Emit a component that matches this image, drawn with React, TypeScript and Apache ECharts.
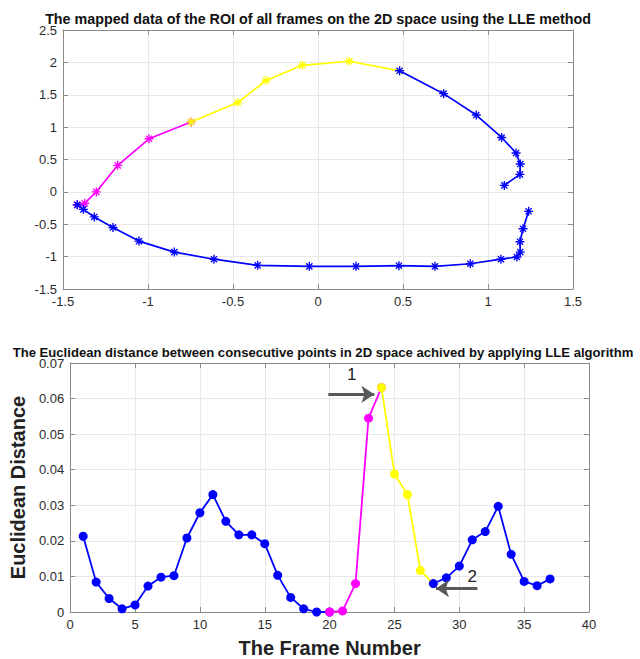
import React, { useEffect, useRef } from "react";
import * as echarts from "echarts";

// ---------- Top chart (LLE 2D mapping) ----------
const lowerBlueX = [1.239, 1.206, 1.188, 1.19, 1.17, 1.076, 0.896, 0.688, 0.476, 0.224, -0.051, -0.355, -0.612, -0.845, -1.053, -1.206, -1.316, -1.38, -1.416];
const lowerBlueY = [-0.3, -0.57, -0.77, -0.93, -1.006, -1.04, -1.11, -1.15, -1.14, -1.15, -1.15, -1.135, -1.04, -0.93, -0.76, -0.55, -0.387, -0.27, -0.2];
const magentaX = [-1.416, -1.372, -1.304, -1.178, -0.994, -0.747];
const magentaY = [-0.2, -0.175, 0.0, 0.41, 0.82, 1.08];
const yellowX = [-0.747, -0.472, -0.306, -0.092, 0.184, 0.48];
const yellowY = [1.08, 1.38, 1.72, 1.955, 2.017, 1.87];
const upperBlueX = [0.48, 0.739, 0.931, 1.08, 1.165, 1.19, 1.188, 1.096];
const upperBlueY = [1.87, 1.517, 1.187, 0.84, 0.6, 0.43, 0.27, 0.1];

// ---------- Bottom chart (Euclidean distance) ----------
const frames = [1, 2, 3, 4, 5, 6, 7, 8, 9, 10, 11, 12, 13, 14, 15, 16, 17, 18, 19, 20, 21, 22, 23, 24, 25, 26, 27, 28, 29, 30, 31, 32, 33, 34, 35, 36, 37];
const distance = [
  0.0213, 0.0084, 0.0038, 0.0009, 0.002, 0.0073, 0.0098, 0.0102, 0.0208, 0.0279,
  0.033, 0.0255, 0.0217, 0.0217, 0.0192, 0.0103, 0.0041, 0.0009, 0.0, 0.0,
  0.0003, 0.008, 0.0545, 0.0631, 0.0388, 0.033, 0.0117, 0.008, 0.0096, 0.0129,
  0.0203, 0.0226, 0.0297, 0.0162, 0.0086, 0.0074, 0.0093,
];
const segmentColors = ["#0000ff", "#ff00ff", "#ffff00", "#0000ff"];
const segmentStart = [0, 19, 23, 27];
const segmentEnd = [19, 23, 27, 36];

// annotation arrows: [x1, y1, x2, y2, label, labelX, labelY]
const arrowNotes: [number, number, number, number, string, number, number][] = [
  [19.9, 0.0612, 23.45, 0.0612, "1", 21.7, 0.0668],
  [31.4, 0.0066, 28.2, 0.0066, "2", 31.0, 0.0099],
];

const topXTicks = { min: -1.5, max: 1.5, interval: 0.5 };
const topYTicks = { min: -1.5, max: 2.5, interval: 0.5 };
const botXTicks = { min: 0, max: 40, interval: 5 };
const botYTicks = { min: 0, max: 0.07, interval: 0.01 };

const FONT = "Liberation Sans, Arial, sans-serif";
const AXIS_COLOR = "#8a8a8a";
const LABEL_COLOR = "#2b2b2b";
const GRID_COLOR = "#e8e8e8";

const ASTERISK =
  "path://M8.5 0H11.5V20H8.5Z M0 8.5H20V11.5H0Z M2.1 4.2L4.2 2.1L17.9 15.8L15.8 17.9Z M15.8 2.1L17.9 4.2L4.2 17.9L2.1 15.8Z";

const zip = (xs: number[], ys: number[]) => xs.map((x, i) => [x, ys[i]]);

function mainAxis(gridIndex: number, ticks: { min: number; max: number; interval: number }, position: string, extra: any = {}) {
  return {
    type: "value",
    gridIndex,
    position,
    min: ticks.min,
    max: ticks.max,
    interval: ticks.interval,
    axisLine: { show: true, onZero: false, lineStyle: { color: AXIS_COLOR, width: 1 } },
    axisTick: { show: true, inside: true, length: 5, lineStyle: { color: AXIS_COLOR } },
    axisLabel: { show: true, color: LABEL_COLOR, fontSize: 13, fontFamily: FONT, margin: 6 },
    splitLine: { show: true, lineStyle: { color: GRID_COLOR, width: 1 } },
    ...extra,
  };
}

function mirrorAxis(gridIndex: number, ticks: { min: number; max: number; interval: number }, position: string) {
  return {
    type: "value",
    gridIndex,
    position,
    min: ticks.min,
    max: ticks.max,
    interval: ticks.interval,
    axisLine: { show: true, onZero: false, lineStyle: { color: AXIS_COLOR, width: 1 } },
    axisTick: { show: true, inside: true, length: 5, lineStyle: { color: AXIS_COLOR } },
    axisLabel: { show: false },
    splitLine: { show: false },
  };
}

export default function App() {
  const ref = useRef<HTMLDivElement>(null);

  useEffect(() => {
    if (!ref.current) return;
    const chart = echarts.init(ref.current, undefined, { renderer: "svg" });

    const topSeries = [
      { data: zip(magentaX, magentaY), color: "#ff00ff" },
      { data: zip(yellowX, yellowY), color: "#ffff00" },
      { data: zip(lowerBlueX, lowerBlueY), color: "#0000ff" },
      { data: zip(upperBlueX, upperBlueY), color: "#0000ff" },
    ].map((s) => ({
      type: "line",
      xAxisIndex: 0,
      yAxisIndex: 0,
      data: s.data,
      symbol: ASTERISK,
      symbolSize: 9,
      showSymbol: true,
      color: s.color,
      itemStyle: { color: s.color },
      lineStyle: { color: s.color, width: 1.7 },
      silent: true,
    }));

    const botSeries: any[] = segmentColors.map((c, si) => {
      const data: number[][] = [];
      for (let i = segmentStart[si]; i <= segmentEnd[si]; i++) data.push([frames[i], distance[i]]);
      return {
        type: "line",
        xAxisIndex: 2,
        yAxisIndex: 2,
        data,
        symbol: "circle",
        symbolSize: 9,
        showSymbol: true,
        color: c,
        itemStyle: { color: c },
        lineStyle: { color: c, width: 1.8 },
        silent: true,
      };
    });

    botSeries.push({
      type: "line",
      xAxisIndex: 2,
      yAxisIndex: 2,
      data: [],
      silent: true,
      markLine: {
        silent: true,
        symbol: ["none", "arrow"],
        symbolSize: [13, 13],
        label: { show: false },
        lineStyle: { color: "#595959", width: 3, type: "solid" },
        emphasis: { disabled: true },
        data: arrowNotes.map((a) => [{ coord: [a[0], a[1]] }, { coord: [a[2], a[3]] }]),
      },
      markPoint: {
        silent: true,
        symbol: "circle",
        symbolSize: 1,
        itemStyle: { color: "rgba(0,0,0,0)" },
        label: { show: true, position: "inside", color: "#222222", fontSize: 17, fontFamily: FONT },
        data: arrowNotes.map((a) => ({ coord: [a[5], a[6]], value: a[4], label: { formatter: a[4] } })),
      },
    });

    chart.setOption({
      animation: false,
      backgroundColor: "#ffffff",
      title: [
        {
          text: "The mapped data of the ROI of all frames on the 2D space using the LLE method",
          left: 313,
          top: 7,
          textAlign: "center",
          textStyle: { fontSize: 14.3, fontWeight: "bold", color: "#111111", fontFamily: FONT },
        },
        {
          text: "The Euclidean distance between consecutive points in 2D space achived by applying LLE algorithm",
          left: 318,
          top: 341,
          textAlign: "center",
          textStyle: { fontSize: 13.1, fontWeight: "bold", color: "#111111", fontFamily: FONT },
        },
      ],
      grid: [
        { left: 63, top: 30, width: 510, height: 259, show: false },
        { left: 64, top: 363, width: 525, height: 254, show: false },
      ],
      xAxis: [
        mainAxis(0, topXTicks, "bottom"),
        mirrorAxis(0, topXTicks, "top"),
        mainAxis(1, botXTicks, "bottom", {
          name: "The Frame Number",
          nameLocation: "middle",
          nameGap: 26,
          nameTextStyle: { fontSize: 20, fontWeight: "bold", color: "#222222", fontFamily: FONT },
        }),
        mirrorAxis(1, botXTicks, "top"),
      ],
      yAxis: [
        mainAxis(0, topYTicks, "left"),
        mirrorAxis(0, topYTicks, "right"),
        mainAxis(1, botYTicks, "left", {
          name: "Euclidean Distance",
          nameLocation: "middle",
          nameGap: 32,
          nameTextStyle: { fontSize: 20, fontWeight: "bold", color: "#222222", fontFamily: FONT },
          axisLabel: {
            show: true,
            color: LABEL_COLOR,
            fontSize: 13,
            fontFamily: FONT,
            margin: 6,
            formatter: (v: number) => String(parseFloat(v.toFixed(2))),
          },
        }),
        mirrorAxis(1, botYTicks, "right"),
      ],
      series: [...topSeries, ...botSeries],
    });

    return () => chart.dispose();
  }, []);

  return (
    <div
      ref={ref}
      style={{ position: "absolute", left: 0, top: 0, width: 640, height: 659, background: "#fff" }}
    />
  );
}
